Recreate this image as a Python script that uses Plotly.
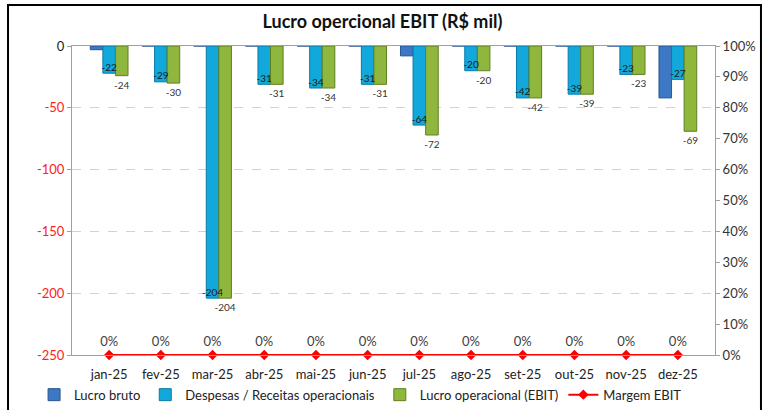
import plotly.graph_objects as go

meses = ["jan-25", "fev-25", "mar-25", "abr-25", "mai-25", "jun-25",
         "jul-25", "ago-25", "set-25", "out-25", "nov-25", "dez-25"]
lucro_bruto = [-3, 0, 0, 0, 0, 0, -8, 0, 0, 0, 0, -42]
despesas = [-22, -29, -204, -31, -34, -31, -64, -20, -42, -39, -23, -27]
ebit = [-24, -30, -204, -31, -34, -31, -72, -20, -42, -39, -23, -69]
margem = [0, 0, 0, 0, 0, 0, 0, 0, 0, 0, 0, 0]

y_ticks = [0, -50, -100, -150, -200, -250]
y_text = ["0"] + ["<span style='color:#ff2020'>%d</span>" % v for v in y_ticks[1:]]

font = "Lato, 'Open Sans', sans-serif"

fig = go.Figure()

fig.add_trace(go.Bar(
    x=meses, y=lucro_bruto, name="Lucro bruto",
    marker=dict(color="#3d78c4", line=dict(color="#2a5590", width=1)),
))
fig.add_trace(go.Bar(
    x=meses, y=despesas, name="Despesas / Receitas operacionais",
    marker=dict(color="#12a8dc", line=dict(color="#0a7aa8", width=1)),
))
fig.add_trace(go.Bar(
    x=meses, y=ebit, name="Lucro operacional (EBIT)",
    marker=dict(color="#8fb73e", line=dict(color="#5f7f22", width=1)),
    text=[str(v) for v in ebit], textposition="outside", textangle=0,
    constraintext="none", cliponaxis=False,
    textfont=dict(size=10, color="#333333", family=font),
))
# labels for the middle bars, drawn on top of the bars
fig.add_trace(go.Scatter(
    x=meses, y=despesas, mode="text", showlegend=False, hoverinfo="skip",
    text=[str(v) for v in despesas], textposition="top center",
    textfont=dict(size=10, color="#1a1a1a", family=font),
))
fig.add_trace(go.Scatter(
    x=meses, y=margem, name="Margem EBIT", yaxis="y2",
    mode="lines+markers+text",
    line=dict(color="#ff0000", width=2),
    marker=dict(symbol="diamond", size=8, color="#ff0000"),
    text=["%d%%" % v for v in margem], textposition="top center",
    textfont=dict(size=13, color="#404040", family=font),
    cliponaxis=False,
))

fig.update_layout(
    width=765, height=410,
    margin=dict(l=72, r=50, t=46, b=55, autoexpand=False),
    paper_bgcolor="white", plot_bgcolor="white",
    font=dict(family=font, size=13, color="#222222"),
    title=dict(text="<b>Lucro opercional EBIT (R$ mil)</b>", x=0.5, xanchor="center",
               y=0.946, yanchor="middle", font=dict(size=18, color="#111111")),
    barmode="group", bargap=0.27, bargroupgap=0,
    showlegend=True,
    legend=dict(orientation="h", x=-0.059, xanchor="left", y=-0.08, yanchor="top",
                bgcolor="rgba(0,0,0,0)",
                font=dict(size=13), itemwidth=30, tracegroupgap=0),
    xaxis=dict(showline=True, linecolor="#a0a0a0", mirror=True,
               ticks="outside", ticklen=7, tickcolor="rgba(0,0,0,0)",
               showgrid=False, tickfont=dict(size=13)),
    yaxis=dict(range=[-250, 0], tickvals=y_ticks, ticktext=y_text,
               showgrid=True, gridcolor="#c5d3ec", griddash="dash", gridwidth=1,
               zeroline=False, showline=True, linecolor="#a0a0a0",
               ticks="outside", ticklen=4, tickcolor="#a0a0a0",
               tickfont=dict(size=13)),
    yaxis2=dict(range=[0, 1], overlaying="y", side="right", tickformat=".0%",
                dtick=0.1, showgrid=False, zeroline=False, showline=True,
                linecolor="#a0a0a0", ticks="outside", ticklen=4,
                tickcolor="#a0a0a0", tickfont=dict(size=13, color="#333333")),
)

fig.add_shape(type="rect", xref="paper", yref="paper",
              x0=-0.0995, x1=1.0715, y0=-0.3, y1=1.1327,
              line=dict(color="#000000", width=2), layer="below")

# drop the default 8px body margin so the figure sits at the page corner
fig.write_html("out.html", config={"displayModeBar": False},
               post_script="document.body.style.margin='0';")
